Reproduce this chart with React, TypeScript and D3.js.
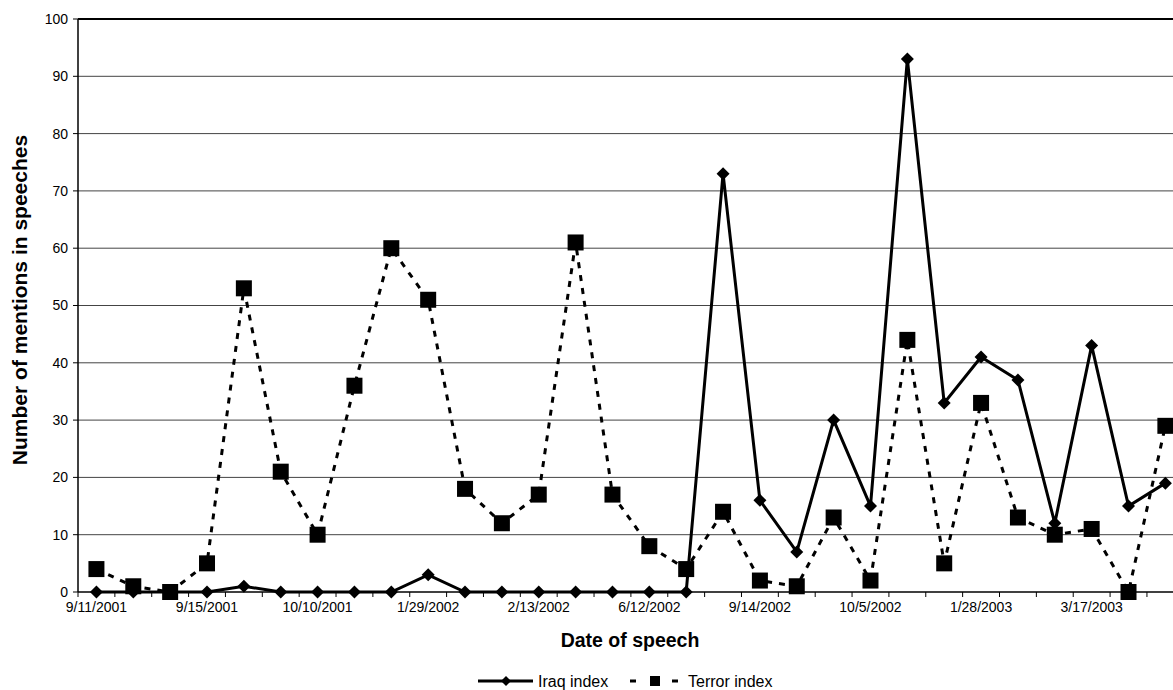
import React from "react";
import * as d3 from "d3";

const categories = [
  "9/11/2001", "c2", "c3", "9/15/2001", "c5", "c6", "10/10/2001", "c8", "c9",
  "1/29/2002", "c11", "c12", "2/13/2002", "c14", "c15", "6/12/2002", "c17", "c18",
  "9/14/2002", "c20", "c21", "10/5/2002", "c23", "c24", "1/28/2003", "c26", "c27",
  "3/17/2003", "c29", "c30",
];
const tickLabelIdx = [0, 3, 6, 9, 12, 15, 18, 21, 24, 27];
const iraq = [0, 0, 0, 0, 1, 0, 0, 0, 0, 3, 0, 0, 0, 0, 0, 0, 0, 73, 16, 7, 30, 15, 93, 33, 41, 37, 12, 43, 15, 19];
const terror = [4, 1, 0, 5, 53, 21, 10, 36, 60, 51, 18, 12, 17, 61, 17, 8, 4, 14, 2, 1, 13, 2, 44, 5, 33, 13, 10, 11, 0, 29];
const yTicks = [0, 10, 20, 30, 40, 50, 60, 70, 80, 90, 100];

const W = 1173;
const H = 690;
const left = 78;
const top = 19;
const bottom = 592;
const bandW = 36.86;
const right = left + bandW * categories.length;
const font = "'Liberation Sans', Arial, Helvetica, sans-serif";

export default function App() {
  const x = d3.scaleBand<number>().domain(d3.range(categories.length)).range([left, right]).padding(0);
  const y = d3.scaleLinear().domain([0, 100]).range([bottom, top]);
  const cx = (i: number) => (x(i) as number) + x.bandwidth() / 2;
  const line = d3.line<number>().x((_, i) => cx(i)).y((d) => y(d));
  const diamond = (px: number, py: number, r: number) =>
    `M${px},${py - r}L${px + r},${py}L${px},${py + r}L${px - r},${py}Z`;
  return (
    <svg width={W} height={H} style={{ position: "absolute", left: 0, top: 0, background: "#fff" }} fontFamily={font}>
      {yTicks.map((t) => (
        <g key={t}>
          {t > 0 && t < 100 && (
            <line x1={left} x2={W} y1={y(t)} y2={y(t)} stroke="#444" strokeWidth={1} />
          )}
          <line x1={left - 5} x2={left} y1={y(t)} y2={y(t)} stroke="#000" strokeWidth={1} />
          <text x={left - 10} y={y(t)} dy="0.35em" textAnchor="end" fontSize={14} fill="#000">
            {t}
          </text>
        </g>
      ))}
      <line x1={left} x2={W} y1={top} y2={top} stroke="#000" strokeWidth={2} />
      <line x1={left} x2={left} y1={top} y2={bottom} stroke="#000" strokeWidth={1.5} />
      <line x1={left} x2={W} y1={bottom} y2={bottom} stroke="#000" strokeWidth={1.5} />
      {d3.range(categories.length + 1).map((i) => {
        const xx = left + i * x.bandwidth();
        return <line key={i} x1={xx} x2={xx} y1={bottom} y2={bottom + 5} stroke="#000" strokeWidth={1} />;
      })}
      {tickLabelIdx.map((i) => (
        <text key={i} x={cx(i)} y={bottom + 20} textAnchor="middle" fontSize={14} fill="#000">
          {categories[i]}
        </text>
      ))}
      <path d={line(iraq) || ""} fill="none" stroke="#000" strokeWidth={3} strokeLinejoin="miter" />
      {iraq.map((v, i) => (
        <path key={i} d={diamond(cx(i), y(v), 6.5)} fill="#000" />
      ))}
      <path d={line(terror) || ""} fill="none" stroke="#000" strokeWidth={3} strokeDasharray="6,7" />
      {terror.map((v, i) => (
        <rect key={i} x={cx(i) - 8} y={y(v) - 8} width={16} height={16} fill="#000" />
      ))}
      <text x={630} y={647} textAnchor="middle" fontSize={19.5} fontWeight="bold">
        Date of speech
      </text>
      <text
        transform={`translate(27,300) rotate(-90)`}
        textAnchor="middle"
        fontSize={21}
        fontWeight="bold"
      >
        Number of mentions in speeches
      </text>
      <g>
        <line x1={478} x2={533} y1={681} y2={681} stroke="#000" strokeWidth={3} />
        <path d={diamond(506, 681, 5)} fill="#000" />
        <text x={538} y={681} dy="0.35em" fontSize={16}>Iraq index</text>
        <line x1={630} x2={636} y1={681} y2={681} stroke="#000" strokeWidth={3} />
        <rect x={650} y={676} width={10} height={10} fill="#000" />
        <line x1={672} x2={678} y1={681} y2={681} stroke="#000" strokeWidth={3} />
        <text x={688} y={681} dy="0.35em" fontSize={16}>Terror index</text>
      </g>
    </svg>
  );
}
